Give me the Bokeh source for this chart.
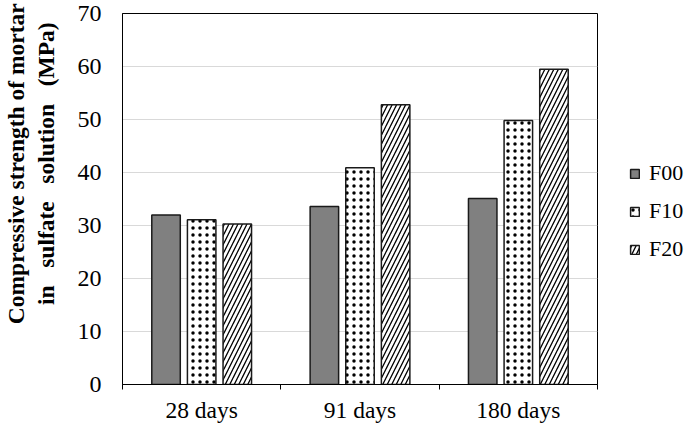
import numpy as np
from bokeh.plotting import figure
from bokeh.models import (ColumnDataSource, Range1d, FixedTicker, Legend, LegendItem)
from bokeh.transform import dodge
from bokeh.embed import file_html
from bokeh.resources import INLINE

categories = ["28 days", "91 days", "180 days"]
series_names = ["F00", "F10", "F20"]
F00 = [32.0, 33.6, 35.1]
F10 = [31.1, 40.9, 49.8]
F20 = [30.3, 52.8, 59.5]
y_ticks = [0, 10, 20, 30, 40, 50, 60, 70]
y_title = ["Compressive strength of mortar", "in\u00a0\u00a0 sulfate\u00a0\u00a0 solution\u00a0\u00a0 (MPa)"]

FONT = "Liberation Serif"
NB = "\u00a0"

xc = np.arange(len(categories)) + 0.5
src = ColumnDataSource(dict(x=xc, F00=F00, F10=F10, F20=F20))

p = figure(frame_width=475, frame_height=371, output_backend="svg", toolbar_location=None,
           x_range=Range1d(0, len(categories)), y_range=Range1d(y_ticks[0], y_ticks[-1]),
           min_border_left=122, min_border_right=88, min_border_top=13, min_border_bottom=43)
p.background_fill_color = "white"
p.border_fill_color = "white"
p.outline_line_color = "black"
p.outline_line_width = 1

bw = 0.18
r0 = p.vbar(x=dodge("x", -0.225, range=p.x_range), top="F00", width=bw, source=src,
            fill_color="#808080", line_color="#1a1a1a", line_width=1.5)
r1 = p.vbar(x=dodge("x", 0.0, range=p.x_range), top="F10", width=bw, source=src,
            fill_color="white", line_color="#1a1a1a", line_width=1.5,
            hatch_pattern="dot", hatch_color="black", hatch_scale=7, hatch_weight=0.3)
r2 = p.vbar(x=dodge("x", 0.225, range=p.x_range), top="F20", width=bw, source=src,
            fill_color="white", line_color="#1a1a1a", line_width=1.5,
            hatch_pattern="right_diagonal_line", hatch_color="black", hatch_scale=9, hatch_weight=1.3)

# axes
p.xaxis.ticker = FixedTicker(ticks=list(xc), minor_ticks=list(range(len(categories) + 1)))
p.xaxis.major_label_overrides = {float(v): c for v, c in zip(xc, categories)}
p.xaxis.major_tick_line_color = None
p.xaxis.major_tick_out = 0
p.xaxis.minor_tick_out = 5
p.xaxis.minor_tick_in = 0
p.xaxis.minor_tick_line_color = "black"
p.xaxis.axis_line_color = "black"
p.xaxis.major_label_standoff = 7
p.xaxis.major_label_text_font = FONT
p.xaxis.major_label_text_font_size = "23.5px"
p.xaxis.major_label_text_color = "black"

p.yaxis.ticker = FixedTicker(ticks=y_ticks)
p.yaxis.major_tick_line_color = None
p.yaxis.minor_tick_line_color = None
p.yaxis.major_tick_out = 0
p.yaxis.axis_line_color = "black"
p.yaxis.major_label_standoff = 21
p.yaxis.major_label_text_font = FONT
p.yaxis.major_label_text_font_size = "24px"
p.yaxis.major_label_text_color = "black"
# leading no-break spaces shift each title line toward the top, as in the reference
p.yaxis.axis_label = NB * 12 + y_title[0] + "\n" + NB * 12 + y_title[1]
p.yaxis.axis_label_text_font = FONT
p.yaxis.axis_label_text_font_style = "bold"
p.yaxis.axis_label_text_font_size = "23.5px"
p.yaxis.axis_label_text_line_height = 1.13
p.yaxis.axis_label_text_color = "black"
p.yaxis.axis_label_standoff = 16

p.xgrid.grid_line_color = None
p.ygrid.ticker = FixedTicker(ticks=y_ticks)
p.ygrid.grid_line_color = "#d9d9d9"
p.ygrid.grid_line_width = 1

legend = Legend(items=[LegendItem(label=n, renderers=[r]) for n, r in zip(series_names, [r0, r1, r2])],
                location=(32, 122), border_line_color=None, background_fill_alpha=0,
                glyph_width=11, glyph_height=11, label_standoff=9,
                label_text_font=FONT, label_text_font_size="22px", label_text_color="black",
                spacing=12, label_height=22, padding=0, margin=0)
p.add_layout(legend, "right")

open("out.html", "w").write(file_html(p, INLINE))
